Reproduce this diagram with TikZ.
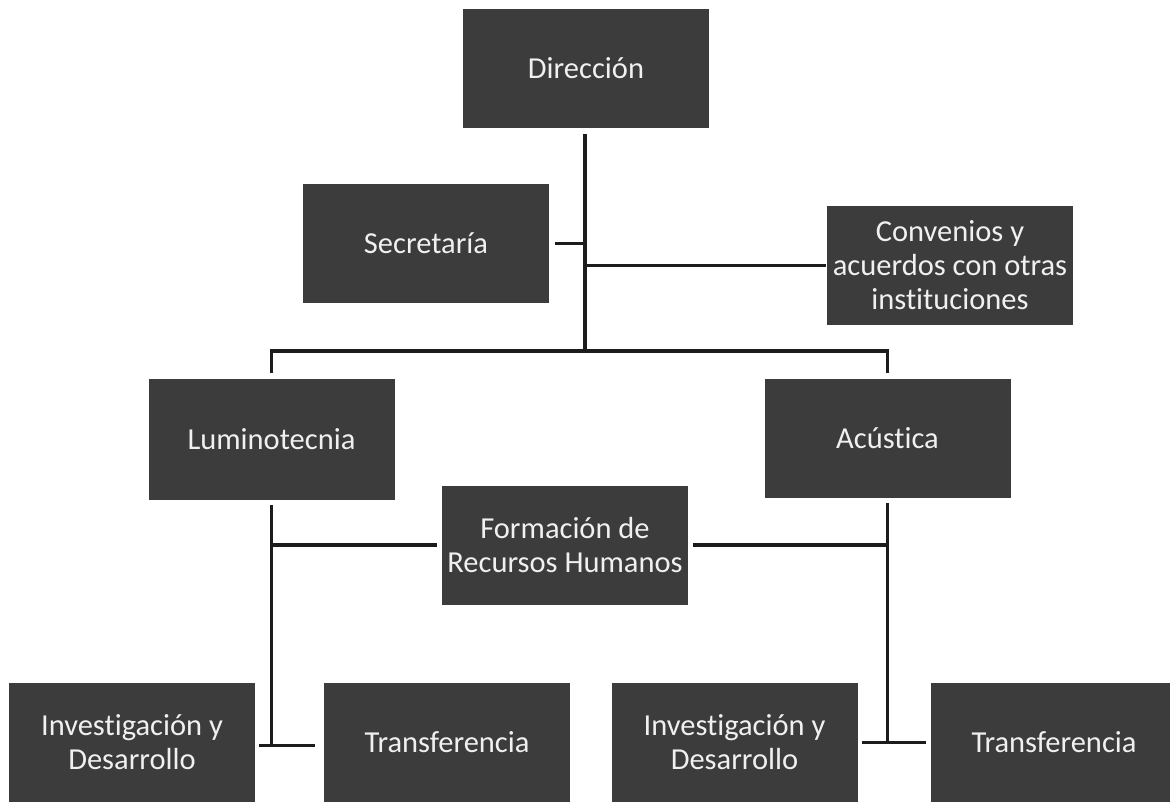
\documentclass[tikz,border=0pt]{standalone}
\usepackage{fontspec}
\setmainfont{Carlito}[Ligatures=NoCommon]
\definecolor{boxfill}{HTML}{3C3C3C}
\definecolor{boxtext}{HTML}{F0F0F0}
\definecolor{linecol}{HTML}{1C1C1C}
\begin{document}
\begin{tikzpicture}[x=1pt,y=-1pt,
  orgbox/.style={draw=none, fill=boxfill, text=boxtext, minimum width=246pt, minimum height=119pt,
    inner sep=0pt, align=center, font=\fontsize{30.5}{34}\selectfont},
  conn/.style={draw=linecol, line width=3.5pt}]
\useasboundingbox (0,0) rectangle (1170,801);
\fill[white] (0,0) rectangle (1170,801);
% boxes
\node[orgbox] (dir)  at (586,68.5)   {Dirección};
\node[orgbox] (sec)  at (426,243.5)  {Secretaría};
\node[orgbox] (conv) at (950,265.5)  {Convenios y\\acuerdos con otras\\instituciones};
\node[orgbox, minimum height=121pt] (lum) at (271.5,439.5) {Luminotecnia};
\node[orgbox] (acu)  at (887.5,438.5) {Acústica};
\node[orgbox] (form) at (565,545)    {Formación de\\Recursos Humanos};
\node[orgbox] (invL) at (132,742.5)  {Investigación y\\Desarrollo};
\node[orgbox] (traL) at (447,742.5)  {Transferencia};
\node[orgbox] (invR) at (734.5,742.5) {Investigación y\\Desarrollo};
\node[orgbox] (traR) at (1054,742.5) {Transferencia};
% junction level of the main horizontal bar
\coordinate (hb) at (585,351);
% trunk from Dirección
\draw[conn, shorten <=6pt] (dir.south -| hb) -- (hb);
% Secretaría stub
\draw[conn, shorten <=6pt] (sec.east) -- (sec.east -| hb);
% Convenios branch
\draw[conn, shorten >=1pt] (conv.west -| hb) -- (conv.west);
% main bar to Luminotecnia and Acústica
\draw[conn, shorten <=6pt, shorten >=6pt] (lum.north) -- (lum.north |- hb) -- (acu.north |- hb) -- (acu.north);
% left column
\draw[conn, shorten <=5pt] (lum.south) -- ([yshift=-3pt]lum.south |- invL.east);
\draw[conn, shorten >=5pt] (lum.south |- form.west) -- (form.west);
\draw[conn, shorten <=4pt, shorten >=9pt] ([yshift=-3pt]invL.east) -- ([yshift=-3pt]traL.west);
% right column
\draw[conn, shorten <=5pt] (acu.south) -- (acu.south |- invR.east);
\draw[conn, shorten <=5pt] (form.east) -- (acu.south |- form.east);
\draw[conn, shorten <=4pt, shorten >=5pt] (invR.east) -- (traR.west);
\end{tikzpicture}
\end{document}
